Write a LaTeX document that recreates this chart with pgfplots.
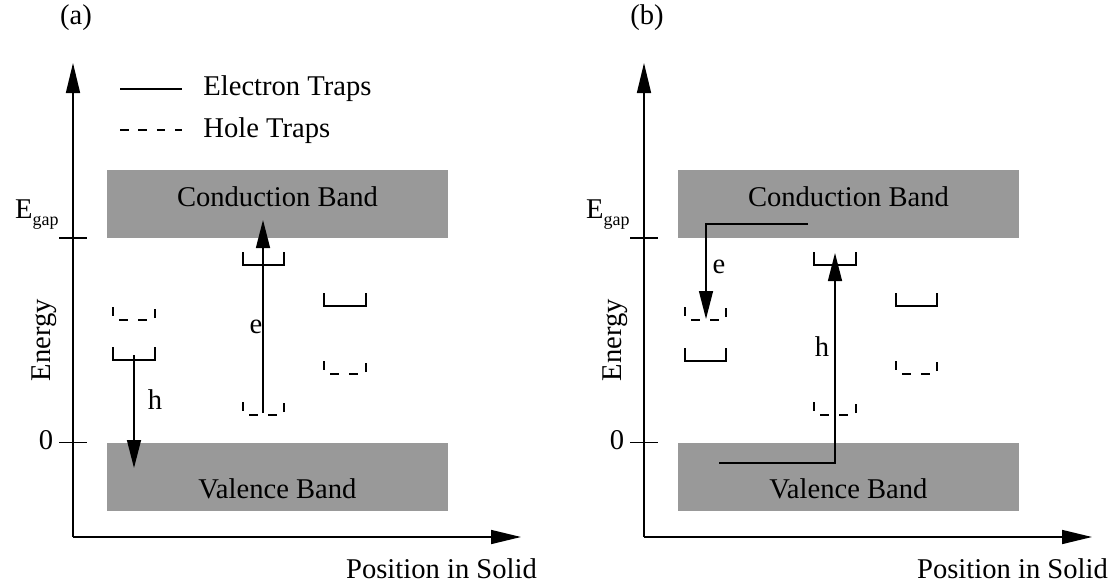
\documentclass[border=0pt]{standalone}
\usepackage{pgfplots}
\pgfplotsset{compat=1.18}
\usepackage{fontspec}
\setmainfont{Liberation Serif}
\usetikzlibrary{arrows.meta}
\definecolor{bandgray}{RGB}{153,153,153}
\newcommand\mainfont{\fontsize{14.3}{17}\selectfont}
\newcommand\Egap{E\raisebox{-3.5pt}{\fontsize{9}{10}\selectfont gap}}
\begin{document}
\begin{tikzpicture}[every node/.style={font=\mainfont, inner sep=0pt}]
\begin{axis}[hide axis, scale only axis, width=560pt, height=292pt,
  xmin=0, xmax=1120, ymin=0, ymax=584, y dir=reverse, clip=false]
\addplot[draw=none] coordinates {(0,0) (1120,584)};
% ---------- bands ----------
\addplot[fill=bandgray, draw=none] coordinates {(107,170) (448,170) (448,238) (107,238)} -- cycle;
\addplot[fill=bandgray, draw=none] coordinates {(107,442.5) (448,442.5) (448,511) (107,511)} -- cycle;
\addplot[fill=bandgray, draw=none] coordinates {(678,170) (1019,170) (1019,238) (678,238)} -- cycle;
\addplot[fill=bandgray, draw=none] coordinates {(678,442.5) (1019,442.5) (1019,511) (678,511)} -- cycle;
% ---------- axes ----------
\addplot[line width=0.8pt, -{Triangle[length=15pt,width=7pt]}] coordinates {(73,537) (73,63)};
\addplot[line width=0.8pt, -{Triangle[length=15pt,width=7pt]}] coordinates {(73,537) (521,537)};
\addplot[line width=0.8pt, -{Triangle[length=15pt,width=7pt]}] coordinates {(644,537) (644,63)};
\addplot[line width=0.8pt, -{Triangle[length=15pt,width=7pt]}] coordinates {(644,537) (1092,537)};
\addplot[line width=0.8pt] coordinates {(59,238) (87,238)};
\addplot[line width=0.8pt] coordinates {(59,442.5) (87,442.5)};
\addplot[line width=0.8pt] coordinates {(630,238) (658,238)};
\addplot[line width=0.8pt] coordinates {(630,442.5) (658,442.5)};
% ---------- legend ----------
\addplot[line width=0.7pt] coordinates {(120,89) (182,89)};
\addplot[line width=0.7pt, dash pattern=on 4.3pt off 4.9pt] coordinates {(120,130) (182,130)};
% ---------- traps panel (a) ----------
\addplot[line width=0.7pt, dash pattern=on 4.5pt off 5pt] coordinates {(113,307) (113,320) (155,320) (155,307)};
\addplot[line width=0.7pt] coordinates {(113,347) (113,360) (155,360) (155,347)};
\addplot[line width=0.7pt] coordinates {(243,252) (243,265) (284,265) (284,252)};
\addplot[line width=0.7pt, dash pattern=on 4.5pt off 5pt] coordinates {(243,402) (243,415) (284,415) (284,402)};
\addplot[line width=0.7pt] coordinates {(324,293) (324,306) (366,306) (366,293)};
\addplot[line width=0.7pt, dash pattern=on 4.5pt off 5pt] coordinates {(324,361) (324,374) (366,374) (366,361)};
% ---------- traps panel (b) ----------
\addplot[line width=0.7pt, dash pattern=on 4.5pt off 5pt] coordinates {(685,307) (685,320) (726,320) (726,307)};
\addplot[line width=0.7pt] coordinates {(685,348) (685,361) (726,361) (726,348)};
\addplot[line width=0.7pt] coordinates {(814,252) (814,265) (856,265) (856,252)};
\addplot[line width=0.7pt, dash pattern=on 4.5pt off 5pt] coordinates {(814,402) (814,415) (856,415) (856,402)};
\addplot[line width=0.7pt] coordinates {(896,293) (896,306) (937,306) (937,293)};
\addplot[line width=0.7pt, dash pattern=on 4.5pt off 5pt] coordinates {(896,361) (896,374) (937,374) (937,361)};
% ---------- transitions ----------
\addplot[line width=0.7pt, -{Triangle[length=14pt,width=7pt]}] coordinates {(134,355) (134,468)};
\addplot[line width=0.7pt, -{Triangle[length=14pt,width=7pt]}] coordinates {(263,413) (263,220)};
\addplot[line width=0.7pt, -{Triangle[length=14pt,width=7pt]}] coordinates {(808,224) (706,224) (706,319)};
\addplot[line width=0.7pt, -{Triangle[length=14pt,width=7pt]}] coordinates {(719,463) (835,463) (835,253)};
% ---------- text ----------
\node at (axis cs:76,18) {(a)};
\node at (axis cs:647,18) {(b)};
\node[anchor=base west] at (axis cs:203,95) {Electron Traps};
\node[anchor=base west] at (axis cs:203,137) {Hole Traps};
\node at (axis cs:277.5,197) {Conduction Band};
\node at (axis cs:277.5,489) {Valence Band};
\node at (axis cs:848.5,197) {Conduction Band};
\node at (axis cs:848.5,489) {Valence Band};
\node[anchor=base east] at (axis cs:59,218) {\Egap};
\node[anchor=base east] at (axis cs:630,218) {\Egap};
\node at (axis cs:46,440) {0};
\node at (axis cs:617,440) {0};
\node[rotate=90] at (axis cs:44,340) {Energy};
\node[rotate=90] at (axis cs:615,340) {Energy};
\node at (axis cs:441.5,569) {Position in Solid};
\node at (axis cs:1012.5,569) {Position in Solid};
\node at (axis cs:256,327) {e};
\node at (axis cs:155,400) {h};
\node at (axis cs:719,267) {e};
\node at (axis cs:822,347) {h};
\end{axis}
\end{tikzpicture}
\end{document}
